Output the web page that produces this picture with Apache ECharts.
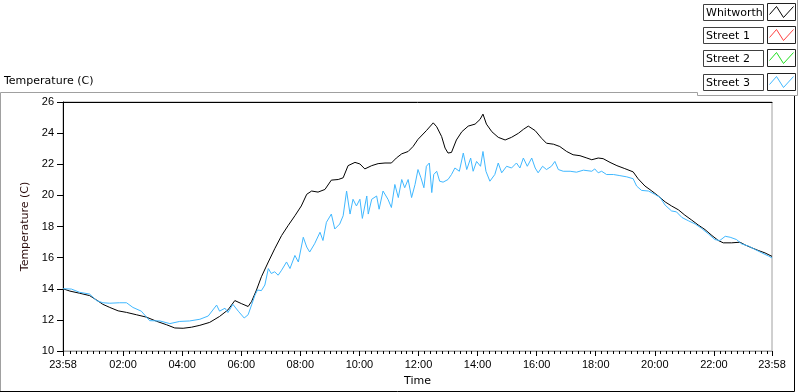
<!DOCTYPE html>
<html>
<head>
<meta charset="utf-8">
<script src="https://cdn.jsdelivr.net/npm/echarts@6/dist/echarts.min.js"></script>
<style>
  html, body { margin: 0; padding: 0; background: #fff; }
  #chart { width: 800px; height: 392px; }
</style>
</head>
<body>
<div id="chart"></div>
<script>
// [minutes elapsed since 23:58, temperature in C]
const whitworth = [
  [0,14.0],[14,13.85],[34,13.71],[54,13.56],[68,13.28],[81,13.0],[95,12.8],[112,12.58],[129,12.48],[149,12.33],
  [169,12.18],[190,11.91],[210,11.69],[227,11.48],[244,11.46],[261,11.53],[278,11.65],[298,11.84],[318,12.22],[335,12.64],
  [349,13.24],[362,13.05],[376,12.86],[383,13.18],[393,13.92],[403,14.77],[417,15.72],[430,16.57],[444,17.42],[457,18.05],
  [471,18.69],[484,19.32],[495,20.07],[505,20.28],[518,20.21],[532,20.38],[545,20.98],[559,21.02],[569,21.13],[579,21.91],
  [593,22.12],[603,22.02],[613,21.7],[627,21.91],[640,22.04],[654,22.08],[667,22.08],[677,22.4],[688,22.67],[701,22.82],
  [711,23.14],[721,23.6],[738,24.16],[752,24.66],[759,24.41],[769,23.78],[776,23.04],[782,22.72],[789,22.76],[799,23.56],
  [810,24.09],[823,24.45],[837,24.58],[847,24.88],[853,25.22],[860,24.58],[871,24.09],[884,23.73],[898,23.56],[911,23.73],
  [925,23.99],[935,24.24],[945,24.45],[959,24.16],[972,23.67],[982,23.35],[996,23.29],[1009,23.14],[1023,22.82],[1036,22.61],
  [1050,22.55],[1064,22.4],[1074,22.29],[1087,22.4],[1097,22.36],[1111,22.12],[1125,21.91],[1141,21.72],[1158,21.51],[1168,21.07],
  [1182,20.6],[1196,20.28],[1209,19.96],[1223,19.58],[1236,19.32],[1250,19.07],[1263,18.73],[1277,18.41],[1290,18.1],[1304,17.8],
  [1318,17.42],[1331,17.1],[1341,16.95],[1358,16.95],[1375,16.99],[1385,16.82],[1399,16.63],[1412,16.46],[1426,16.3],[1440,16.08]
];
const street1 = [];
const street2 = [];
const street3 = [
  [0,14.0],[17,13.98],[34,13.77],[54,13.66],[68,13.24],[81,13.1],[95,13.07],[115,13.1],[129,13.1],[142,12.8],
  [159,12.56],[176,11.95],[197,11.93],[217,11.76],[237,11.9],[257,11.93],[278,12.04],[295,12.25],[312,12.95],[318,12.56],
  [329,12.75],[335,12.47],[345,13.0],[356,12.56],[359,12.44],[368,12.12],[376,12.33],[383,12.96],[390,13.6],[395,13.92],
  [403,13.88],[410,14.24],[417,15.3],[423,14.98],[430,15.09],[437,14.87],[444,15.19],[454,15.72],[461,15.3],[471,16.14],
  [478,15.72],[488,17.31],[495,16.68],[501,16.36],[511,16.89],[522,17.63],[528,17.1],[535,18.27],[545,18.8],[552,17.84],
  [562,18.16],[569,18.69],[576,20.28],[583,18.8],[589,19.75],[596,19.32],[603,19.75],[608,18.52],[617,19.96],[620,18.8],
  [627,19.75],[637,19.96],[642,19.11],[650,20.28],[660,19.75],[667,19.22],[674,20.7],[681,19.86],[688,21.02],[694,20.49],
  [701,21.02],[708,19.86],[715,20.7],[721,21.66],[727,21.13],[733,20.49],[738,21.87],[744,22.08],[749,20.18],[753,21.34],
  [759,21.55],[765,20.91],[772,20.85],[782,21.02],[789,21.34],[796,21.76],[805,21.55],[813,22.72],[820,21.66],[828,22.4],
  [833,21.55],[840,22.18],[848,21.87],[853,22.82],[859,21.55],[867,20.91],[877,21.34],[884,22.08],[891,21.45],[901,21.87],
  [911,21.76],[921,22.08],[928,21.76],[935,22.4],[943,21.87],[952,22.4],[959,21.76],[965,21.45],[974,21.87],[982,21.66],
  [992,21.87],[999,22.18],[1006,21.66],[1016,21.55],[1030,21.55],[1043,21.49],[1057,21.62],[1074,21.55],[1080,21.7],[1087,21.45],
  [1094,21.55],[1104,21.34],[1118,21.34],[1131,21.27],[1145,21.19],[1158,21.07],[1165,20.6],[1175,20.32],[1189,20.28],[1202,20.07],
  [1213,19.86],[1223,19.37],[1236,19.0],[1246,18.94],[1257,18.58],[1270,18.37],[1284,18.16],[1297,17.88],[1311,17.52],[1324,17.16],
  [1334,17.1],[1345,17.37],[1355,17.31],[1368,17.16],[1378,16.89],[1392,16.74],[1406,16.52],[1419,16.31],[1433,16.1],[1440,15.98]
];

const seriesNames = ['Whitworth', 'Street 1', 'Street 2', 'Street 3'];
const seriesData = [whitworth, street1, street2, street3];
const seriesColors = ['#000000', '#ff4040', '#20e020', '#40b8ff'];

// major x ticks (minutes since 23:58): 23:58, 02:00 ... 22:00, 23:58
const majorTicks = [0, 122, 242, 362, 482, 602, 722, 842, 962, 1082, 1202, 1322, 1440];
const minorTicks = [];
for (let m = 14; m < 1440; m += 12) {
  if ((m - 2) % 120 !== 0) minorTicks.push(m);
}

const FONT = 'DejaVu Sans';
const TICKFONT = 'Liberation Sans';

function clock(m) {
  const t = (23 * 60 + 58 + m) % 1440;
  return String(Math.floor(t / 60)).padStart(2, '0') + ':' + String(t % 60).padStart(2, '0');
}

// legend drawn like the LabVIEW plot legend: text box + sample box
const legendGraphics = [];
seriesNames.forEach((name, i) => {
  const y = 4 + i * 23.2;
  legendGraphics.push({
    type: 'rect', silent: true,
    shape: { x: 703.5, y: Math.round(y) + 0.5, width: 60, height: 16 },
    style: { fill: '#fff', stroke: '#404040', lineWidth: 1 }
  });
  legendGraphics.push({
    type: 'text', silent: true,
    x: 706, y: Math.round(y) + 9,
    style: { text: name, fill: '#000', font: '11px "' + FONT + '"', verticalAlign: 'middle' }
  });
  const bx = 767.5, by = Math.round(y) - 0.5;
  legendGraphics.push({
    type: 'rect', silent: true,
    shape: { x: bx, y: by, width: 28, height: 17 },
    style: { fill: '#fff', stroke: '#202020', lineWidth: 1 }
  });
  legendGraphics.push({
    type: 'polyline', silent: true,
    shape: { points: [[bx + 2, by + 11], [bx + 9, by + 3], [bx + 16, by + 14], [bx + 26, by + 3]] },
    style: { stroke: seriesColors[i], lineWidth: 1, fill: null }
  });
});

const frameGraphics = [
  { type: 'polyline', silent: true, shape: { points: [[0.5, 391], [0.5, 92.5], [697.5, 92.5], [697.5, 95.5], [797.5, 95.5], [797.5, 0]] },
    style: { stroke: '#a0a0a0', lineWidth: 1, fill: null } },
  { type: 'polyline', silent: true, shape: { points: [[0, 391.5], [794.5, 391.5], [794.5, 96]] },
    style: { stroke: '#000', lineWidth: 1, fill: null } }
];

const chart = echarts.init(document.getElementById('chart'), null, { renderer: 'canvas' });
chart.setOption({
  animation: false,
  backgroundColor: '#fff',
  title: {
    text: 'Temperature (C)',
    left: 4, top: 76, padding: 0,
    textStyle: { fontFamily: FONT, fontSize: 11, fontWeight: 'normal', color: '#000' }
  },
  grid: {
    left: 63, right: 28, top: 102, bottom: 39,
    show: true, borderColor: '#a0a0a0', borderWidth: 1, backgroundColor: '#fff'
  },
  xAxis: [
    {
      type: 'value', position: 'bottom', min: 0, max: 1440,
      name: 'Time', nameLocation: 'middle', nameGap: 25,
      nameTextStyle: { fontFamily: FONT, fontSize: 11, color: '#000' },
      axisLine: { show: true, lineStyle: { color: '#a0a0a0', width: 1 } },
      axisTick: { show: true, inside: false, length: 5, customValues: majorTicks, lineStyle: { color: '#000' } },
      axisLabel: {
        customValues: majorTicks, margin: 8, showMinLabel: true, showMaxLabel: true,
        fontFamily: TICKFONT, fontSize: 11, color: '#000', formatter: v => clock(v)
      },
      splitLine: { show: false }
    },
    {
      type: 'value', position: 'bottom', min: 0, max: 1440,
      axisLine: { show: false },
      axisTick: { show: true, inside: false, length: 3, customValues: minorTicks, lineStyle: { color: '#000' } },
      axisLabel: { show: false },
      splitLine: { show: false }
    },
    {
      type: 'value', position: 'top', min: 0, max: 1440,
      axisLine: { show: true, lineStyle: { color: '#000', width: 1 } },
      axisTick: { show: false }, axisLabel: { show: false }, splitLine: { show: false }
    }
  ],
  yAxis: {
    type: 'value', min: 10, max: 26, interval: 2,
    name: 'Temperature (C)', nameLocation: 'middle', nameGap: 27, nameRotate: 90,
    nameTextStyle: { fontFamily: FONT, fontSize: 11, color: '#2a0a0a' },
    axisLine: { show: true, lineStyle: { color: '#000', width: 1 } },
    axisTick: { show: true, inside: false, length: 6, lineStyle: { color: '#000' } },
    axisLabel: { margin: 9, fontFamily: TICKFONT, fontSize: 11, color: '#000' },
    splitLine: { show: false }
  },
  series: seriesNames.map((name, i) => ({
    name: name,
    type: 'line',
    xAxisIndex: 0,
    data: seriesData[i],
    showSymbol: false,
    symbol: 'none',
    lineStyle: { color: seriesColors[i], width: 1 },
    itemStyle: { color: seriesColors[i] },
    z: 2 + i
  })),
  graphic: frameGraphics.concat(legendGraphics)
});
</script>
</body>
</html>
